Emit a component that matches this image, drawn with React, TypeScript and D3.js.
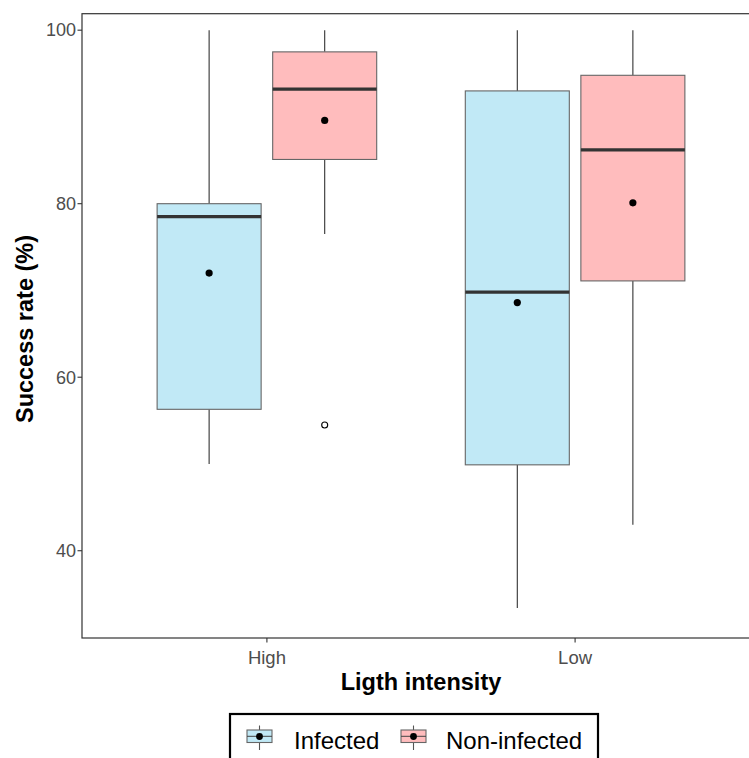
import * as d3 from "d3";
import React from "react";

const W = 749;
const H = 758;

// data
const intensities = ["High", "Low"];
const groups = ["Infected", "Non-infected"];
const colors = ["#C1E9F6", "#FFBCBD"];
// per box: [intensity, group]
const boxKeys = [
  ["High", "Infected"],
  ["High", "Non-infected"],
  ["Low", "Infected"],
  ["Low", "Non-infected"],
];
const lowerWhisker = [50, 76.5, 33.4, 43.0];
const q1 = [56.3, 85.1, 49.9, 71.1];
const medians = [78.5, 93.2, 69.8, 86.2];
const q3 = [80.0, 97.5, 93.0, 94.8];
const upperWhisker = [100, 100, 100, 100];
const means = [72.0, 89.6, 68.6, 80.1];
const outliers = [[], [54.5], [], []];
const yTicks = [40, 60, 80, 100];

const left = 82;
const right = 760;
const top = 13.7;
const bottom = 638;

export default function App() {
  const x = d3.scaleLinear().domain([0.4, 2.6]).range([left, right]);
  const y = d3.scaleLinear().domain([29.94, 101.9]).range([bottom, top]);
  const dodge = 0.1875;
  const bw = 0.3375;

  const boxes = boxKeys.map(([inten, grp], i) => {
    const gi = groups.indexOf(grp);
    const cx = intensities.indexOf(inten) + 1 + (gi === 0 ? -dodge : dodge);
    return { i, gi, cx };
  });

  const font = "'Liberation Sans', Arial, sans-serif";

  return (
    <svg
      width={W}
      height={H}
      style={{ position: "absolute", left: 0, top: 0, background: "white" }}
      fontFamily={font}
    >
      <rect x={0} y={0} width={W} height={H} fill="white" />
      {/* boxes */}
      {boxes.map(({ i, gi, cx }) => {
        const xc = x(cx);
        const x0 = x(cx - bw / 2);
        const x1 = x(cx + bw / 2);
        return (
          <g key={i}>
            <line x1={xc} x2={xc} y1={y(upperWhisker[i])} y2={y(q3[i])} stroke="#333" strokeWidth={1.1} />
            <line x1={xc} x2={xc} y1={y(q1[i])} y2={y(lowerWhisker[i])} stroke="#333" strokeWidth={1.1} />
            <rect
              x={x0}
              y={y(q3[i])}
              width={x1 - x0}
              height={y(q1[i]) - y(q3[i])}
              fill={colors[gi]}
              stroke="#666"
              strokeWidth={1.1}
            />
            <line x1={x0} x2={x1} y1={y(medians[i])} y2={y(medians[i])} stroke="#333" strokeWidth={3.2} />
            {outliers[i].map((o, k) => (
              <circle key={k} cx={xc} cy={y(o)} r={3} fill="white" stroke="black" strokeWidth={1.1} />
            ))}
            <circle cx={xc} cy={y(means[i])} r={3.6} fill="black" />
          </g>
        );
      })}
      {/* panel border */}
      <rect x={left} y={top} width={right - left} height={bottom - top} fill="none" stroke="#333" strokeWidth={1.2} />
      {/* y axis */}
      {yTicks.map((t) => (
        <g key={t}>
          <line x1={left - 4.5} x2={left} y1={y(t)} y2={y(t)} stroke="#333" strokeWidth={1.1} />
          <text x={left - 6} y={y(t)} dy="0.35em" textAnchor="end" fontSize={18} fill="#4D4D4D">
            {t}
          </text>
        </g>
      ))}
      {/* x axis */}
      {intensities.map((c, k) => (
        <g key={c}>
          <line x1={x(k + 1)} x2={x(k + 1)} y1={bottom} y2={bottom + 4.5} stroke="#333" strokeWidth={1.1} />
          <text x={x(k + 1)} y={bottom + 26} textAnchor="middle" fontSize={18.5} fill="#4D4D4D">
            {c}
          </text>
        </g>
      ))}
      <text x={421} y={690} textAnchor="middle" fontSize={23.5} fontWeight="bold" fill="black">
        Ligth intensity
      </text>
      <text
        transform={`translate(33,${(228 + 430) / 2}) rotate(-90)`}
        textAnchor="middle"
        fontSize={23.5}
        fontWeight="bold"
        fill="black"
      >
        Success rate (%)
      </text>
      {/* legend */}
      <rect x={230} y={714} width={368} height={60} fill="white" stroke="black" strokeWidth={2.2} />
      {groups.map((g, k) => {
        const kx = k === 0 ? 247 : 401;
        const tx = k === 0 ? 294 : 446;
        const cx = kx + 12.5;
        return (
          <g key={g}>
            <line x1={cx} x2={cx} y1={725.5} y2={750} stroke="#555" strokeWidth={1.1} />
            <rect x={kx} y={730} width={25} height={12.5} fill={colors[k]} stroke="#666" strokeWidth={1.1} />
            <line x1={kx} x2={kx + 25} y1={736.3} y2={736.3} stroke="#444" strokeWidth={1} />
            <circle cx={cx} cy={736.5} r={3.4} fill="black" />
            <text x={tx} y={749} fontSize={24} fill="black">
              {g}
            </text>
          </g>
        );
      })}
    </svg>
  );
}
